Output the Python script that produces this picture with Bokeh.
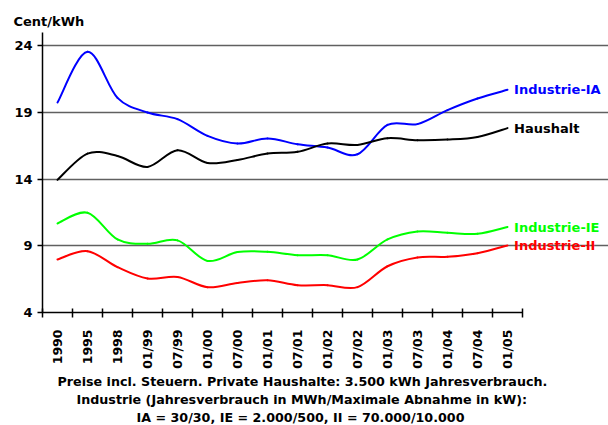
import math
import numpy as np
from bokeh.plotting import figure
from bokeh.models import Range1d, FixedTicker, Label, Title, ColumnDataSource
from bokeh.embed import file_html
from bokeh.resources import INLINE

categories = ["1990", "1995", "1998", "01/99", "07/99", "01/00", "07/00", "01/01",
              "07/01", "01/02", "07/02", "01/03", "07/03", "01/04", "07/04", "01/05"]

industrie_ia = [19.75, 23.55, 20.1, 19.0, 18.5, 17.25, 16.67, 17.05,
                16.62, 16.37, 15.87, 18.07, 18.13, 19.18, 20.05, 20.7]
haushalt = [13.95, 15.92, 15.74, 14.92, 16.17, 15.22, 15.44, 15.92,
            16.05, 16.67, 16.57, 17.07, 16.92, 16.97, 17.17, 17.83]
industrie_ie = [10.68, 11.48, 9.48, 9.15, 9.41, 7.87, 8.53, 8.55,
                8.3, 8.3, 7.98, 9.48, 10.08, 9.98, 9.9, 10.41]
industrie_ii = [7.98, 8.6, 7.4, 6.55, 6.67, 5.9, 6.22, 6.42,
                6.05, 6.05, 5.9, 7.47, 8.13, 8.18, 8.45, 9.03]

y_ticks = [4, 9, 14, 19, 24]
series = [
    ("Industrie-IA", industrie_ia, "#0000ff"),
    ("Haushalt", haushalt, "#000000"),
    ("Industrie-IE", industrie_ie, "#00ff00"),
    ("Industrie-II", industrie_ii, "#ff0000"),
]
caption = [
    "Preise incl. Steuern. Private Haushalte: 3.500 kWh Jahresverbrauch.",
    "Industrie (Jahresverbrauch in MWh/Maximale Abnahme in kW):",
    "IA = 30/30, IE = 2.000/500, II = 70.000/10.000",
]
caption_offsets = [15, 34, 94]

FONT = "DejaVu Sans"
n = len(categories)
x_extra = 566.0 / 30.0  # frame extends to the right edge so the series names fit

p = figure(width=608, height=425, x_range=Range1d(0, x_extra), y_range=Range1d(4, 25),
           output_backend="svg", toolbar_location=None,
           min_border_left=42, min_border_right=0, min_border_top=32, min_border_bottom=100)
p.outline_line_color = None
p.background_fill_color = "white"
p.border_fill_color = "white"

p.xgrid.visible = False
p.ygrid.ticker = FixedTicker(ticks=y_ticks[1:])
p.ygrid.grid_line_color = "#606060"
p.ygrid.grid_line_width = 1.5
p.ygrid.bounds = (0, n)

xa = p.xaxis[0]
xa.bounds = (0, n)
xa.ticker = FixedTicker(ticks=[i + 0.5 for i in range(n)], minor_ticks=list(range(n + 1)))
xa.major_label_overrides = {i + 0.5: categories[i] for i in range(n)}
xa.major_label_orientation = math.pi / 2
xa.major_tick_line_color = None
xa.major_tick_out = 0
xa.major_tick_in = 0
xa.minor_tick_line_color = "black"
xa.minor_tick_line_width = 1.5
xa.minor_tick_in = 4
xa.minor_tick_out = 5
xa.major_label_standoff = 12
xa.axis_line_width = 1.5
xa.axis_line_color = "black"
xa.major_label_text_font = FONT
xa.major_label_text_font_style = "bold"
xa.major_label_text_font_size = "12.5px"
xa.major_label_text_color = "black"

ya = p.yaxis[0]
ya.ticker = FixedTicker(ticks=y_ticks)
ya.minor_tick_line_color = None
ya.major_tick_in = 0
ya.major_tick_out = 5
ya.major_tick_line_width = 1.5
ya.axis_line_width = 1.5
ya.axis_line_color = "black"
ya.major_label_standoff = 5
ya.major_label_text_font = FONT
ya.major_label_text_font_style = "bold"
ya.major_label_text_font_size = "13px"
ya.major_label_text_color = "black"

xs = np.arange(n) + 0.5

for name, vals, color in series:
    y = np.array(vals, dtype=float)
    yp = np.concatenate([[y[0]], y, [y[-1]]])
    xp = np.concatenate([[xs[0]], xs, [xs[-1]]])
    x0 = xs[:-1]; x1 = xs[1:]
    y0 = y[:-1]; y1 = y[1:]
    cx0 = x0 + (xp[2:-1] - xp[0:-3]) / 6.0
    cy0 = y0 + (yp[2:-1] - yp[0:-3]) / 6.0
    cx1 = x1 - (xp[3:] - xp[1:-2]) / 6.0
    cy1 = y1 - (yp[3:] - yp[1:-2]) / 6.0
    src = ColumnDataSource(dict(x0=x0, y0=y0, x1=x1, y1=y1, cx0=cx0, cy0=cy0, cx1=cx1, cy1=cy1))
    p.bezier(x0="x0", y0="y0", x1="x1", y1="y1", cx0="cx0", cy0="cy0", cx1="cx1", cy1="cy1",
             source=src, line_color=color, line_width=2, line_cap="round")
    p.add_layout(Label(x=xs[-1] + 0.22, y=vals[-1], text=name, text_color=color,
                       text_font=FONT, text_font_style="bold", text_font_size="13px",
                       text_align="left", text_baseline="middle"))

p.add_layout(Title(text="Cent/kWh", align="left", offset=-29, standoff=8,
                   text_font=FONT, text_font_style="bold", text_font_size="13px",
                   text_color="black"), "above")

for t, off in zip(caption, caption_offsets):
    p.add_layout(Title(text=t, align="left", offset=off, standoff=1,
                       text_font=FONT, text_font_style="bold", text_font_size="12.7px",
                       text_color="black"), "below")

open("out.html", "w").write(file_html(p, INLINE))
